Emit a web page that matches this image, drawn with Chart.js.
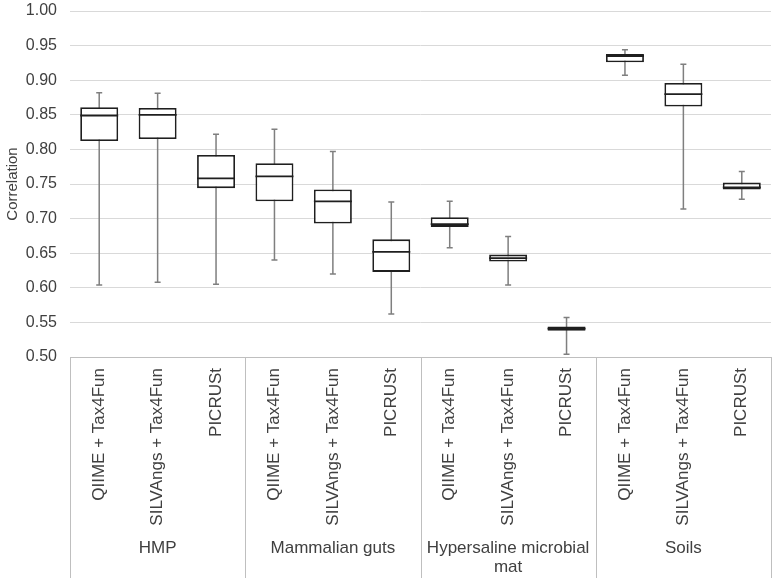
<!DOCTYPE html>
<html>
<head>
<meta charset="utf-8">
<script src="https://cdn.jsdelivr.net/npm/chart.js@4"></script>
<style>
  html, body { margin: 0; padding: 0; background: #fff; }
  #wrap { width: 776px; height: 582px; }
</style>
</head>
<body>
<div id="wrap"><canvas id="chart"></canvas></div>
<script>
const methods = ['QIIME + Tax4Fun', 'SILVAngs + Tax4Fun', 'PICRUSt',
                 'QIIME + Tax4Fun', 'SILVAngs + Tax4Fun', 'PICRUSt',
                 'QIIME + Tax4Fun', 'SILVAngs + Tax4Fun', 'PICRUSt',
                 'QIIME + Tax4Fun', 'SILVAngs + Tax4Fun', 'PICRUSt'];
const groups = [['HMP'], ['Mammalian guts'], ['Hypersaline microbial', 'mat'], ['Soils']];

const whiskerLow = [0.604, 0.608, 0.605, 0.640, 0.620, 0.562, 0.658, 0.604, 0.504, 0.907, 0.714, 0.728];
const q1         = [0.812, 0.815, 0.744, 0.725, 0.693, 0.623, 0.688, 0.638, 0.538, 0.926, 0.862, 0.742];
const median     = [0.849, 0.850, 0.758, 0.761, 0.725, 0.652, 0.692, 0.643, 0.541, 0.935, 0.880, 0.745];
const q3         = [0.861, 0.860, 0.792, 0.780, 0.742, 0.670, 0.702, 0.648, 0.544, 0.938, 0.896, 0.752];
const whiskerHigh= [0.882, 0.881, 0.822, 0.829, 0.797, 0.724, 0.725, 0.674, 0.557, 0.944, 0.923, 0.768];

const yTicks = [0.50, 0.55, 0.60, 0.65, 0.70, 0.75, 0.80, 0.85, 0.90, 0.95, 1.00];

const boxes = q1.map((v, i) => [v, q3[i]]);

const boxPlugin = {
  id: 'boxParts',
  beforeDatasetsDraw(chart) {
    const ctx = chart.ctx;
    const y = chart.scales.y;
    const meta = chart.getDatasetMeta(0);
    ctx.save();
    ctx.strokeStyle = '#7f7f7f';
    ctx.lineWidth = 1.5;
    meta.data.forEach((bar, i) => {
      const x = bar.x;
      const yl = y.getPixelForValue(whiskerLow[i]);
      const yh = y.getPixelForValue(whiskerHigh[i]);
      ctx.beginPath();
      ctx.moveTo(x, yl); ctx.lineTo(x, yh);
      ctx.moveTo(x - 3, yl); ctx.lineTo(x + 3, yl);
      ctx.moveTo(x - 3, yh); ctx.lineTo(x + 3, yh);
      ctx.stroke();
    });
    ctx.restore();
  },
  afterDatasetsDraw(chart) {
    const ctx = chart.ctx;
    const y = chart.scales.y;
    const meta = chart.getDatasetMeta(0);
    ctx.save();
    ctx.strokeStyle = '#1f1f1f';
    ctx.lineWidth = 1.8;
    meta.data.forEach((bar, i) => {
      const ym = y.getPixelForValue(median[i]);
      ctx.beginPath();
      ctx.moveTo(bar.x - bar.width / 2, ym);
      ctx.lineTo(bar.x + bar.width / 2, ym);
      ctx.stroke();
    });
    ctx.restore();
  },
  afterDraw(chart) {
    const ctx = chart.ctx;
    const x = chart.scales.x;
    const area = chart.chartArea;
    const step = (x.getPixelForValue(1) - x.getPixelForValue(0)) * 3;
    ctx.save();
    ctx.strokeStyle = '#bfbfbf';
    ctx.lineWidth = 1;
    for (let g = 0; g <= groups.length; g++) {
      const px = Math.round(area.left + g * step) + 0.5;
      ctx.beginPath();
      ctx.moveTo(px, area.bottom);
      ctx.lineTo(px, 578);
      ctx.stroke();
    }
    ctx.fillStyle = '#404040';
    ctx.font = '17px "Liberation Sans", Arial, sans-serif';
    ctx.textAlign = 'center';
    ctx.textBaseline = 'middle';
    groups.forEach((lines, g) => {
      const cx = area.left + (g + 0.5) * step;
      lines.forEach((t, k) => ctx.fillText(t, cx, 548 + k * 19));
    });
    ctx.restore();
  }
};

new Chart(document.getElementById('chart'), {
  type: 'bar',
  data: {
    labels: methods,
    datasets: [{
      data: boxes,
      backgroundColor: '#ffffff',
      borderColor: '#1f1f1f',
      borderWidth: 1.8,
      borderSkipped: false,
      barPercentage: 0.65,
      categoryPercentage: 1
    }]
  },
  options: {
    responsive: true,
    maintainAspectRatio: false,
    animation: false,
    layout: { padding: { left: 0, right: 5, top: 11, bottom: 0 } },
    plugins: {
      legend: { display: false },
      tooltip: { enabled: false }
    },
    scales: {
      x: {
        grid: { display: false, drawTicks: false },
        border: { display: true, color: '#bfbfbf', width: 1 },
        ticks: {
          minRotation: 90,
          maxRotation: 90,
          padding: 11,
          color: '#404040',
          font: { family: '"Liberation Sans", Arial, sans-serif', size: 17 }
        },
        afterFit(scale) { scale.height = 225; }
      },
      y: {
        min: 0.5,
        max: 1.0,
        afterBuildTicks(scale) { scale.ticks = yTicks.map(v => ({ value: v })); },
        grid: { color: '#d9d9d9', drawTicks: false },
        border: { display: false },
        ticks: {
          padding: 13,
          color: '#404040',
          font: { family: '"Liberation Sans", Arial, sans-serif', size: 16 },
          callback: v => v.toFixed(2)
        },
        title: {
          display: true,
          text: 'Correlation',
          color: '#404040',
          padding: { top: 4, bottom: 0 },
          font: { family: '"Liberation Sans", Arial, sans-serif', size: 15 }
        },
        afterFit(scale) {
          scale.width = 70;
          scale.paddingTop = 0;
          scale.paddingBottom = 0;
        }
      }
    }
  },
  plugins: [boxPlugin]
});
</script>
</body>
</html>
